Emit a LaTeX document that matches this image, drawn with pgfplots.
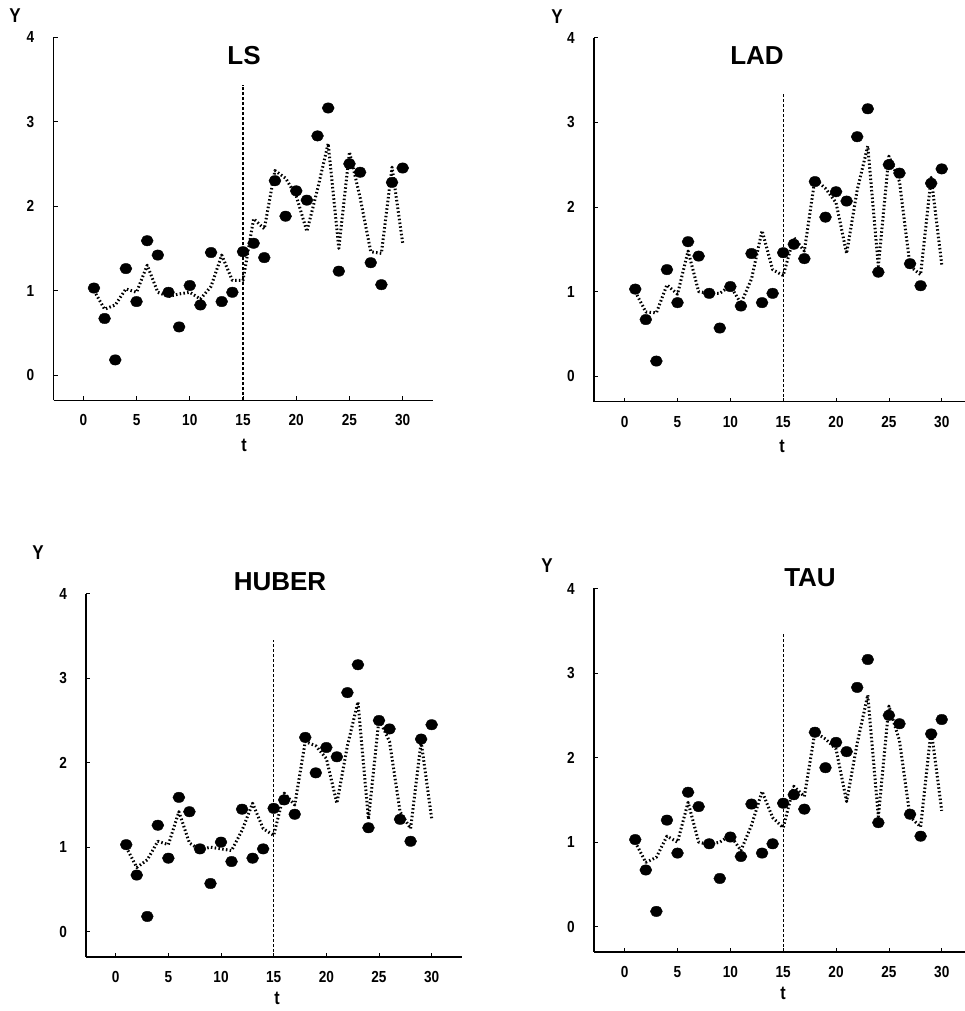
\documentclass[border=0pt]{standalone}
\usepackage{fontspec}
\setmainfont{Liberation Sans}
\newfontfamily\cond{Liberation Sans Bold}[FakeStretch=0.85]
\usepackage{pgfplots}
\usepackage{pgfplotstable}
\pgfplotsset{compat=1.18}

% observed series (same in all four panels)
\pgfplotstableread{
t y
1 1.03
2 0.67
3 0.18
4 1.26
5 0.87
6 1.59
7 1.42
8 0.98
9 0.57
10 1.06
11 0.83
12 1.45
13 0.87
14 0.98
15 1.46
16 1.56
17 1.39
18 2.30
19 1.88
20 2.18
21 2.07
22 2.83
23 3.16
24 1.23
25 2.50
26 2.40
27 1.33
28 1.07
29 2.28
30 2.45
}\obs

% fitted values of each estimator
\pgfplotstableread{
t ls lad hub tau
1 1.00 1.00 1.00 1.00
2 0.78 0.76 0.76 0.76
3 0.83 0.75 0.85 0.82
4 1.02 1.08 1.07 1.07
5 0.98 0.97 1.03 1.00
6 1.30 1.48 1.42 1.47
7 0.98 1.00 1.05 1.00
8 0.93 0.98 0.97 0.97
9 0.96 0.98 1.00 1.00
10 0.98 1.07 0.98 1.08
11 0.90 0.86 0.96 0.90
12 1.05 1.15 1.20 1.20
13 1.42 1.72 1.52 1.60
14 1.12 1.26 1.22 1.29
15 1.12 1.19 1.14 1.17
16 1.85 1.64 1.64 1.66
17 1.73 1.48 1.50 1.54
18 2.42 2.33 2.25 2.30
19 2.33 2.22 2.20 2.22
20 2.12 2.05 2.05 2.10
21 1.70 1.45 1.52 1.48
22 2.20 2.20 2.20 2.17
23 2.74 2.72 2.72 2.74
24 1.50 1.30 1.33 1.30
25 2.64 2.60 2.52 2.61
26 2.10 2.30 2.25 2.20
27 1.46 1.30 1.42 1.30
28 1.44 1.20 1.22 1.18
29 2.46 2.35 2.25 2.33
30 1.56 1.32 1.34 1.37
}\fit

\pgfplotsset{
 panel/.style={
  scale only axis, anchor=south west, clip=false,
  axis lines=left, axis line style={-, line width=1.6pt},
  ymin=-0.3, ymax=4, ytick={0,1,2,3,4}, xtick={0,5,...,30},
  tick align=inside, major tick length=4pt, tick style={black, line width=0.8pt},
  /pgf/number format/assume math mode=true,
  ticklabel style={font=\fontsize{16}{16}\selectfont\cond},
  yticklabel style={anchor=center, xshift=-23pt},
  xticklabel style={anchor=center, yshift=-20pt},
 },
 fitline/.style={black, line width=3pt, line join=round, dash pattern=on 1.5pt off 2.3pt},
 obsdots/.style={only marks, mark=*, mark size=5.2pt, mark options={black, xscale=1.15}},
 cut/.style={black, line width=1.1pt, dash pattern=on 3pt off 2pt},
}

\newcommand\ttl[1]{\fontsize{26}{26}\selectfont\bfseries #1}
\newcommand\lab[1]{\fontsize{20}{20}\selectfont\cond #1}
\newcommand\tlab[1]{\fontsize{19}{19}\selectfont\cond #1}

\begin{document}
\begin{tikzpicture}
\useasboundingbox (0,0) rectangle (965pt,1011pt);

% LS
\begin{axis}[panel, at={(53.5pt,610.5pt)}, width=379pt, height=363.5pt, xmin=-2.8, xmax=32.8]
\addplot[cut] coordinates {(15,-0.3) (15,3.43)};
\addplot[fitline] table[x=t, y=ls] {\fit};
\addplot[obsdots] table[x=t, y=y] {\obs};
\end{axis}

% LAD
\begin{axis}[panel, at={(594pt,609.3pt)}, width=371pt, height=364pt, xmin=-2.9, xmax=32.2]
\addplot[cut] coordinates {(15,-0.3) (15,3.36)};
\addplot[fitline] table[x=t, y=lad] {\fit};
\addplot[obsdots] table[x=t, y=y] {\obs};
\end{axis}

% HUBER
\begin{axis}[panel, at={(86.2pt,54pt)}, width=376pt, height=363.2pt, xmin=-2.8, xmax=32.9]
\addplot[cut] coordinates {(15,-0.3) (15,3.45)};
\addplot[fitline] table[x=t, y=hub] {\fit};
\addplot[obsdots] table[x=t, y=y] {\obs};
\end{axis}

% TAU
\begin{axis}[panel, at={(594pt,59pt)}, width=371pt, height=363.5pt, xmin=-2.9, xmax=32.2]
\addplot[cut] coordinates {(15,-0.3) (15,3.47)};
\addplot[fitline] table[x=t, y=tau] {\fit};
\addplot[obsdots] table[x=t, y=y] {\obs};
\end{axis}

% titles and axis names
\node at (15pt,995pt) {\lab{Y}};
\node at (244pt,955pt) {\ttl{LS}};
\node at (244pt,566pt) {\tlab{t}};

\node at (557pt,994pt) {\lab{Y}};
\node at (757pt,955pt) {\ttl{LAD}};
\node at (782pt,565pt) {\tlab{t}};

\node at (38pt,458pt) {\lab{Y}};
\node at (280pt,429pt) {\ttl{HUBER}};
\node at (277pt,13pt) {\tlab{t}};

\node at (547pt,445pt) {\lab{Y}};
\node at (810pt,433pt) {\ttl{TAU}};
\node at (783pt,18pt) {\tlab{t}};
\end{tikzpicture}
\end{document}
